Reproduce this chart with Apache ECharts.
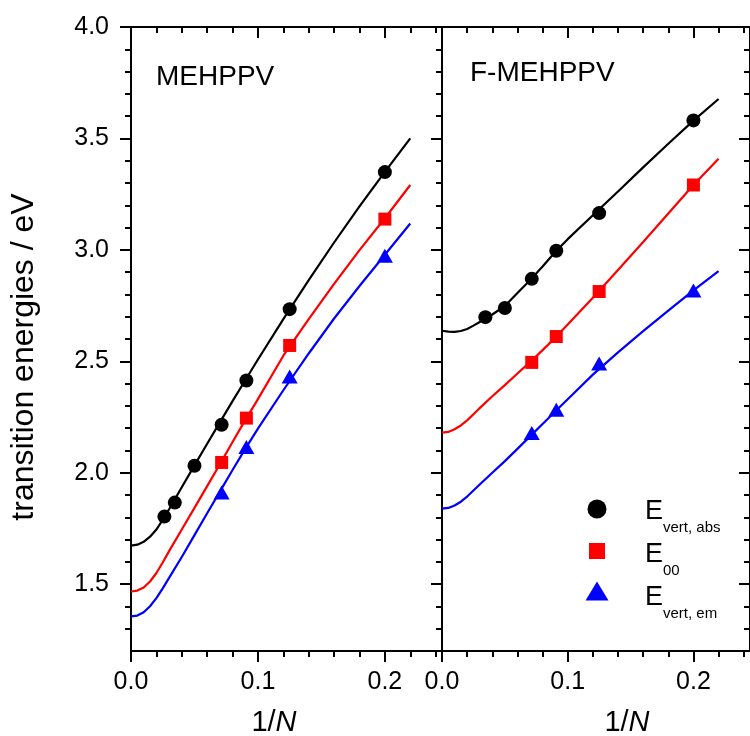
<!DOCTYPE html>
<html>
<head>
<meta charset="utf-8">
<script src="https://cdn.jsdelivr.net/npm/echarts@6/dist/echarts.min.js"></script>
<style>
html,body{margin:0;padding:0;background:#fff;}
#chart{width:750px;height:736px;}
</style>
</head>
<body>
<div id="chart"></div>
<script>
// ---------- data ----------
// x positions (1/N) at which the fitted curves were read from the picture
const curveX = [0, 0.005, 0.01, 0.015, 0.02, 0.025, 0.03, 0.04, 0.05, 0.06, 0.07, 0.08, 0.09, 0.10, 0.12, 0.14, 0.16, 0.18, 0.20, 0.22];

// MEHPPV (left panel) fitted curves
const mehAbsCurve = [1.673, 1.677, 1.690, 1.713, 1.745, 1.789, 1.836, 1.935, 2.033, 2.130, 2.226, 2.321, 2.415, 2.508, 2.689, 2.864, 3.033, 3.195, 3.350, 3.500];
const meh00Curve  = [1.467, 1.471, 1.485, 1.512, 1.550, 1.597, 1.648, 1.745, 1.842, 1.940, 2.038, 2.138, 2.236, 2.330, 2.525, 2.689, 2.847, 2.999, 3.142, 3.291];
const mehEmCurve  = [1.355, 1.359, 1.374, 1.401, 1.437, 1.481, 1.528, 1.622, 1.720, 1.818, 1.915, 2.012, 2.107, 2.198, 2.370, 2.535, 2.692, 2.838, 2.978, 3.118];

// F-MEHPPV (right panel) fitted curves
const fAbsCurve = [2.637, 2.633, 2.632, 2.636, 2.645, 2.660, 2.676, 2.710, 2.748, 2.806, 2.864, 2.925, 2.990, 3.048, 3.155, 3.262, 3.370, 3.476, 3.580, 3.677];
const f00Curve  = [2.180, 2.183, 2.195, 2.212, 2.235, 2.262, 2.290, 2.343, 2.393, 2.445, 2.496, 2.550, 2.606, 2.665, 2.785, 2.910, 3.035, 3.163, 3.291, 3.409];
const fEmCurve  = [1.839, 1.842, 1.853, 1.870, 1.893, 1.920, 1.947, 2.000, 2.052, 2.107, 2.163, 2.219, 2.275, 2.330, 2.440, 2.540, 2.635, 2.727, 2.818, 2.905];

// measured points
const mehAbsX = [0.0263, 0.0345, 0.05, 0.0714, 0.0909, 0.125, 0.2];
const mehAbsY = [1.803, 1.866, 2.031, 2.215, 2.414, 2.734, 3.349];
const meh00X  = [0.0714, 0.0909, 0.125, 0.2];
const meh00Y  = [2.046, 2.245, 2.571, 3.138];
const mehEmX  = [0.0714, 0.0909, 0.125, 0.2];
const mehEmY  = [1.911, 2.115, 2.432, 2.974];

const fAbsX = [0.0345, 0.05, 0.0714, 0.0909, 0.125, 0.2];
const fAbsY = [2.698, 2.739, 2.870, 2.996, 3.165, 3.581];
const f00X  = [0.0714, 0.0909, 0.125, 0.2];
const f00Y  = [2.495, 2.611, 2.813, 3.291];
const fEmX  = [0.0714, 0.0909, 0.125, 0.2];
const fEmY  = [2.178, 2.282, 2.490, 2.818];

// tick values
const xMajorTicks = [0, 0.1, 0.2];
const xMinorTicks = [0.02, 0.04, 0.06, 0.08, 0.12, 0.14, 0.16, 0.18, 0.22, 0.24];
const yMajorTicks = [1.5, 2.0, 2.5, 3.0, 3.5, 4.0];
const yMinorTicks = [1.3, 1.4, 1.6, 1.7, 1.8, 1.9, 2.1, 2.2, 2.3, 2.4, 2.6, 2.7, 2.8, 2.9, 3.1, 3.2, 3.3, 3.4, 3.6, 3.7, 3.8, 3.9];

const panelNames = ['MEHPPV', 'F-MEHPPV'];
const legendNames = ['vert, abs', '00', 'vert, em'];

// ---------- chart ----------
const FONT = '"Liberation Sans", Arial, Helvetica, sans-serif';
const X_MIN = 0, X_MAX = 0.245, Y_MIN = 1.2, Y_MAX = 4.0;
const MAJ = 11, MIN_LEN = 6;

function pairs(xs, ys) { return xs.map((x, i) => [x, ys[i]]); }

function makeX(gi, pos, inside, major, labels) {
  const ticks = major ? xMajorTicks : xMinorTicks;
  return {
    type: 'value', gridIndex: gi, position: pos, min: X_MIN, max: X_MAX,
    axisLine: { show: major, onZero: false, lineStyle: { color: '#000', width: 2 } },
    axisTick: { show: true, inside: inside, length: major ? MAJ : MIN_LEN, customValues: ticks,
                lineStyle: { color: '#000', width: 2 } },
    axisLabel: labels ? { show: true, customValues: xMajorTicks, formatter: v => v.toFixed(1),
                fontSize: 25, fontFamily: FONT, color: '#000', margin: 19 } : { show: false },
    splitLine: { show: false }, minorTick: { show: false }
  };
}
function makeY(gi, pos, inside, major, labels) {
  const ticks = major ? yMajorTicks : yMinorTicks;
  return {
    type: 'value', gridIndex: gi, position: pos, min: Y_MIN, max: Y_MAX,
    axisLine: { show: major, onZero: false, lineStyle: { color: '#000', width: 2 } },
    axisTick: { show: true, inside: inside, length: major ? MAJ : MIN_LEN, customValues: ticks,
                lineStyle: { color: '#000', width: 2 } },
    axisLabel: labels ? { show: true, customValues: yMajorTicks, formatter: v => v.toFixed(1),
                fontSize: 25, fontFamily: FONT, color: '#000', margin: 22 } : { show: false },
    splitLine: { show: false }, minorTick: { show: false }
  };
}

const xAxes = [], yAxes = [];
[0, 1].forEach(gi => {
  xAxes.push(makeX(gi, 'bottom', false, true, true));
  xAxes.push(makeX(gi, 'bottom', false, false, false));
  xAxes.push(makeX(gi, 'top', true, true, false));
  xAxes.push(makeX(gi, 'top', true, false, false));
  yAxes.push(makeY(gi, 'left', false, true, gi === 0));
  yAxes.push(makeY(gi, 'left', false, false, false));
  yAxes.push(makeY(gi, 'right', true, true, false));
  yAxes.push(makeY(gi, 'right', true, false, false));
});

const COLORS = ['#000000', '#ff0000', '#0000ff'];
const panels = [
  { curves: [mehAbsCurve, meh00Curve, mehEmCurve], pts: [[mehAbsX, mehAbsY], [meh00X, meh00Y], [mehEmX, mehEmY]] },
  { curves: [fAbsCurve, f00Curve, fEmCurve], pts: [[fAbsX, fAbsY], [f00X, f00Y], [fEmX, fEmY]] }
];
const symbols = ['circle', 'rect', 'triangle'];
const symSizes = [14, 13, [16, 14]];

const series = [];
panels.forEach((p, gi) => {
  p.curves.forEach((c, k) => {
    series.push({
      type: 'line', xAxisIndex: gi * 4, yAxisIndex: gi * 4,
      data: pairs(curveX, c), showSymbol: false, symbol: 'none',
      smooth: false,
      lineStyle: { color: COLORS[k], width: 2.2, join: 'round' }, z: 2, silent: true
    });
  });
  p.pts.forEach((d, k) => {
    series.push({
      type: 'scatter', name: 'E ' + legendNames[k], xAxisIndex: gi * 4, yAxisIndex: gi * 4,
      data: pairs(d[0], d[1]), symbol: symbols[k], symbolSize: symSizes[k],
      itemStyle: { color: COLORS[k], opacity: 1 }, z: 5
    });
  });
});

// legend & annotations as graphic elements
const graphic = [
  { type: 'text', x: 156, y: 77, style: { text: panelNames[0], fontSize: 28, fontFamily: FONT, fill: '#000', align: 'left', verticalAlign: 'middle' } },
  { type: 'text', x: 470, y: 73, style: { text: panelNames[1], fontSize: 28, fontFamily: FONT, fill: '#000', align: 'left', verticalAlign: 'middle' } },
  { type: 'text', x: 24, y: 357, rotation: Math.PI / 2,
    style: { text: 'transition energies / eV', fontSize: 32, fontFamily: FONT, fill: '#000', align: 'center', verticalAlign: 'middle' } },
  { type: 'text', x: 274, y: 723,
    style: { text: '{a|1/}{b|N}', rich: { a: { fontSize: 29, fontFamily: FONT, fill: '#000' }, b: { fontSize: 29, fontFamily: FONT, fontStyle: 'italic', fill: '#000' } }, align: 'center', verticalAlign: 'middle' } },
  { type: 'text', x: 627, y: 723,
    style: { text: '{a|1/}{b|N}', rich: { a: { fontSize: 29, fontFamily: FONT, fill: '#000' }, b: { fontSize: 29, fontFamily: FONT, fontStyle: 'italic', fill: '#000' } }, align: 'center', verticalAlign: 'middle' } },
  // legend markers
  { type: 'circle', shape: { cx: 597, cy: 509, r: 9.5 }, style: { fill: '#000' } },
  { type: 'rect', shape: { x: 589, y: 543, width: 16, height: 16 }, style: { fill: '#ff0000' } },
  { type: 'polygon', shape: { points: [[597, 581.5], [608.5, 600.5], [585.5, 600.5]] }, style: { fill: '#0000ff' } }
];
const legendRows = [510.5, 553.5, 596.5];
legendRows.forEach((yc, k) => {
  graphic.push({ type: 'text', x: 645, y: yc + 1, style: { text: 'E', fontSize: 27, fontFamily: FONT, fill: '#000', align: 'left', verticalAlign: 'middle' } });
  graphic.push({ type: 'text', x: 663, y: yc + 17, style: { text: legendNames[k], fontSize: 15, fontFamily: FONT, fill: '#000', align: 'left', verticalAlign: 'middle' } });
});

const chart = echarts.init(document.getElementById('chart'), null, { renderer: 'canvas' });
chart.setOption({
  animation: false,
  backgroundColor: '#ffffff',
  grid: [
    { left: 131, top: 27, width: 311, height: 624 },
    { left: 442, top: 27, width: 313, height: 624 }
  ],
  xAxis: xAxes,
  yAxis: yAxes,
  series: series,
  graphic: graphic
});
</script>
</body>
</html>
